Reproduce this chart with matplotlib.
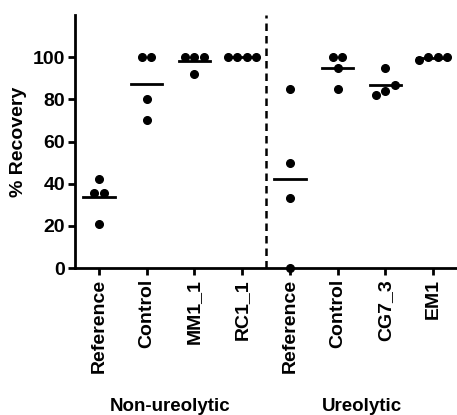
import matplotlib
matplotlib.use("Agg")
import matplotlib.pyplot as plt
import matplotlib.transforms as mtransforms
import numpy as np

plt.rcParams['font.family'] = ['Liberation Sans', 'DejaVu Sans']
plt.rcParams['font.weight'] = 'bold'

categories = ["Reference", "Control", "MM1_1", "RC1_1",
              "Reference", "Control", "CG7_3", "EM1"]
groups = ["Non-ureolytic", "Ureolytic"]
recovery = [
    [42, 35.5, 35.5, 21],
    [100, 100, 80, 70],
    [100, 100, 100, 92],
    [100, 100, 100, 100],
    [85, 50, 33, 0],
    [100, 100, 95, 85],
    [95, 87, 84, 82],
    [100, 98.5, 100, 100],
]


def swarm_offsets(vals, tol=4.0, step=0.2):
    # spread near-equal values sideways, like a column scatter
    order = np.argsort(vals)
    v = np.asarray(vals)[order]
    offs = np.zeros(len(v))
    start = 0
    for i in range(1, len(v) + 1):
        if i == len(v) or v[i] - v[i - 1] > tol:
            n = i - start
            offs[start:i] = (np.arange(n) - (n - 1) / 2) * step
            start = i
    out = np.zeros(len(v))
    out[order] = offs
    return out


fig = plt.figure(figsize=(4.57, 4.15), dpi=100)
ax = fig.add_axes([0.164, 0.354, 0.836, 0.61])

for i, vals in enumerate(recovery):
    xs = i + swarm_offsets(vals)
    ax.plot(xs, vals, 'o', color='black', markersize=5.5, clip_on=False, zorder=3)
    m = np.mean(vals)
    ax.plot([i - 0.33, i + 0.33], [m, m], color='black', lw=2, zorder=2)

ax.axvline(3.5, color='black', lw=1.8, ls=(0, (3, 2)), zorder=1)

ax.set_xlim(-0.5, 7.5)
ax.set_ylim(0, 120)
ax.set_yticks([0, 20, 40, 60, 80, 100])
ax.set_xticks(range(len(categories)))
ax.set_xticklabels(categories, rotation=90, fontsize=14, fontweight='bold')
ax.tick_params(axis='y', labelsize=14, width=2, length=5, pad=2)
ax.tick_params(axis='x', width=2, length=5, pad=3)
for lab in ax.get_yticklabels():
    lab.set_fontweight('bold')
ax.set_ylabel("% Recovery", fontsize=14, fontweight='bold', labelpad=4)

for s in ['top', 'right']:
    ax.spines[s].set_visible(False)
for s in ['left', 'bottom']:
    ax.spines[s].set_linewidth(2)

trans = mtransforms.blended_transform_factory(ax.transData, fig.transFigure)
ax.text(1.5, 0.02, groups[0], transform=trans, ha='center', va='center',
        fontsize=13.5, fontweight='bold')
ax.text(5.5, 0.02, groups[1], transform=trans, ha='center', va='center',
        fontsize=13.5, fontweight='bold')

fig.savefig("out.png", dpi=100)
